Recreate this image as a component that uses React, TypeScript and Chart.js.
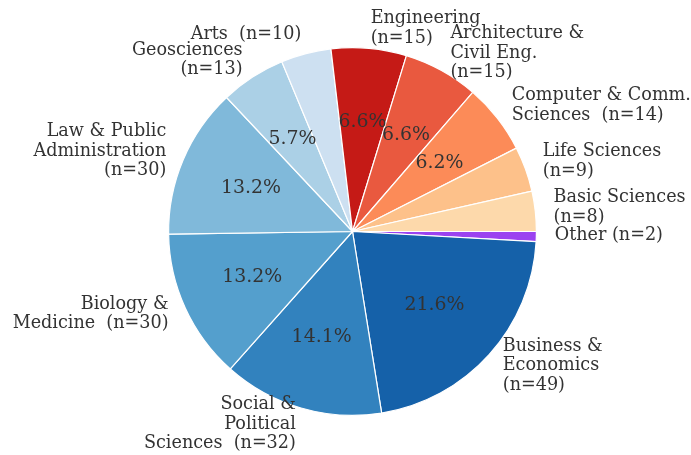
import React, { useEffect, useRef } from "react";
import { Chart, registerables } from "chart.js";

Chart.register(...registerables);

const categories: string[] = [
  "Other",
  "Business & Economics",
  "Social & Political Sciences",
  "Biology & Medicine",
  "Law & Public Administration",
  "Geosciences",
  "Arts",
  "Engineering",
  "Architecture & Civil Eng.",
  "Computer & Comm. Sciences",
  "Life Sciences",
  "Basic Sciences",
];

const counts: number[] = [2, 49, 32, 30, 30, 13, 10, 15, 15, 14, 9, 8];

const labelLines: string[][] = [
  ["Other (n=2)"],
  ["Business &", "Economics", "(n=49)"],
  ["Social &", "Political", "Sciences  (n=32)"],
  ["Biology &", "Medicine  (n=30)"],
  ["Law & Public", "Administration", "(n=30)"],
  ["Geosciences", "(n=13)"],
  ["Arts  (n=10)"],
  ["Engineering", "(n=15)"],
  ["Architecture &", "Civil Eng.", "(n=15)"],
  ["Computer & Comm.", "Sciences  (n=14)"],
  ["Life Sciences", "(n=9)"],
  ["Basic Sciences", "(n=8)"],
];

const colors: string[] = [
  "#9b42f0",
  "#1561a9",
  "#3282be",
  "#549fcd",
  "#80b9da",
  "#abd0e6",
  "#cde0f1",
  "#c51a16",
  "#e9593f",
  "#fc8b58",
  "#fdc18a",
  "#fdd9ab",
];

const FONT = "'DejaVu Serif', serif";
const TEXT_COLOR = "#333333";

const labelPlugin = {
  id: "pieLabels",
  afterDatasetsDraw(chart: any) {
    const ctx = chart.ctx;
    const meta = chart.getDatasetMeta(0);
    const total = counts.reduce((a, b) => a + b, 0);
    ctx.save();
    meta.data.forEach((arc: any, i: number) => {
      const { x, y, startAngle, endAngle, outerRadius } = arc.getProps(
        ["x", "y", "startAngle", "endAngle", "outerRadius"],
        true
      );
      const mid = (startAngle + endAngle) / 2;
      const c = Math.cos(mid);
      const s = Math.sin(mid);
      const lr = outerRadius * 1.1;
      const lx = x + lr * c;
      const ly = y + lr * s;
      const lines = labelLines[i];
      const lh = 19.5;
      ctx.font = `17.6px ${FONT}`;
      ctx.fillStyle = TEXT_COLOR;
      ctx.textAlign = c >= 0 ? "left" : "right";
      ctx.textBaseline = "middle";
      const top = ly - ((lines.length - 1) * lh) / 2 - 1.5;
      lines.forEach((ln, k) => ctx.fillText(ln, lx, top + k * lh));
      const pct = (counts[i] / total) * 100;
      if (pct > 5) {
        const pr = outerRadius * 0.6;
        ctx.font = `18.9px ${FONT}`;
        ctx.textAlign = "center";
        ctx.fillText(pct.toFixed(1) + "%", x + pr * c, y + pr * s);
      }
    });
    ctx.restore();
  },
};

export default function App() {
  const ref = useRef<HTMLCanvasElement | null>(null);
  useEffect(() => {
    if (!ref.current) return;
    const chart = new Chart(ref.current, {
      type: "pie",
      data: {
        labels: categories,
        datasets: [
          {
            data: counts,
            backgroundColor: colors,
            borderColor: "#ffffff",
            borderWidth: 1.2,
          },
        ],
      },
      options: {
        responsive: false,
        animation: false,
        rotation: 90,
        layout: { padding: { top: 47, bottom: 39, left: 168, right: 154 } },
        plugins: {
          legend: { display: false },
          tooltip: { enabled: false },
        },
      },
      plugins: [labelPlugin],
    });
    return () => chart.destroy();
  }, []);
  return (
    <div style={{ position: "fixed", left: 0, top: 0, width: 691, height: 455, background: "#fff" }}>
      <canvas ref={ref} width={691} height={455} style={{ width: 691, height: 455 }} />
    </div>
  );
}
